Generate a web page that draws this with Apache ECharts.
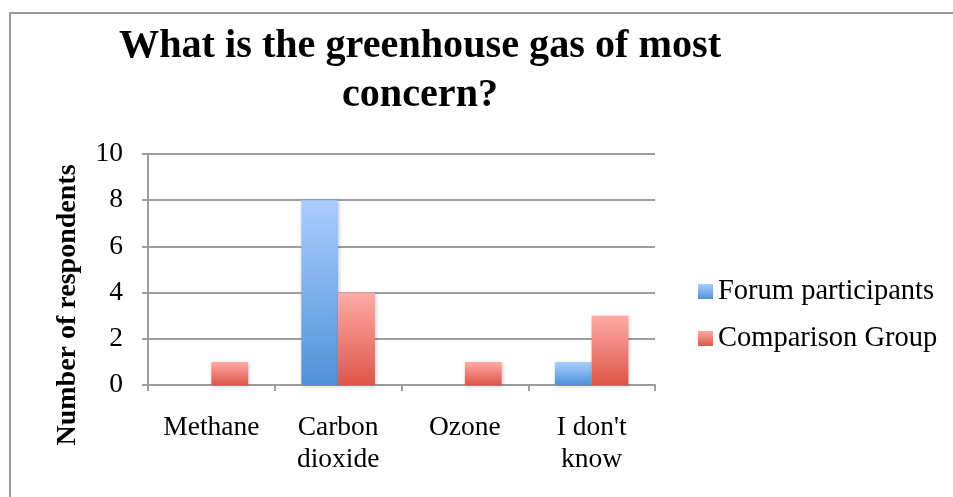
<!DOCTYPE html>
<html>
<head>
<meta charset="utf-8">
<script src="https://cdn.jsdelivr.net/npm/echarts@6/dist/echarts.min.js"></script>
<style>
  html, body { margin: 0; padding: 0; background: #fff; }
  #chart { width: 953px; height: 497px; }
</style>
</head>
<body>
<div id="chart"></div>
<script>
// Survey answers: greenhouse gas of most concern
const categories = ['Methane', 'Carbon dioxide', 'Ozone', "I don't know"];
const forumParticipants = [0, 8, 0, 1];
const comparisonGroup = [1, 4, 1, 3];
const seriesNames = ['Forum participants', 'Comparison Group'];
const yTicks = { min: 0, max: 10, interval: 2 };

const FONT = '"Liberation Serif", "Times New Roman", serif';
const GRID = '#9e9e9e';

function vGrad(top, bottom) {
  return new echarts.graphic.LinearGradient(0, 0, 0, 1, [
    { offset: 0, color: top },
    { offset: 1, color: bottom }
  ]);
}

// long category names wrap onto two lines at their last space
function wrapLabel(value) {
  if (value.length <= 8) return value;
  const i = value.lastIndexOf(' ');
  return i > 0 ? value.slice(0, i) + '\n' + value.slice(i + 1) : value;
}

const barShadow = {
  shadowBlur: 4,
  shadowColor: 'rgba(0,0,0,0.22)',
  shadowOffsetX: 1,
  shadowOffsetY: 1
};

const chart = echarts.init(document.getElementById('chart'), null, { renderer: 'canvas' });

chart.setOption({
  animation: false,
  backgroundColor: '#ffffff',
  title: {
    text: 'What is the greenhouse gas of most\nconcern?',
    left: 415,
    top: 17,
    textAlign: 'center',
    textStyle: {
      fontFamily: FONT,
      fontWeight: 'bold',
      fontSize: 40.2,
      lineHeight: 49,
      color: '#000'
    }
  },
  legend: {
    orient: 'vertical',
    left: 698,
    top: 277,
    padding: 0,
    itemWidth: 15,
    itemHeight: 15,
    itemGap: 18,
    itemTextGap: 6,
    selectedMode: false,
    icon: 'rect',
    textStyle: {
      fontFamily: FONT,
      fontSize: 28.5,
      lineHeight: 29,
      color: '#000'
    },
    data: seriesNames
  },
  grid: {
    left: 148,
    right: 298,
    top: 154,
    bottom: 112,
    containLabel: false
  },
  xAxis: {
    type: 'category',
    data: categories,
    axisLine: { show: true, lineStyle: { color: GRID, width: 2 } },
    axisTick: { show: true, length: 6, lineStyle: { color: GRID, width: 2 } },
    axisLabel: {
      fontFamily: FONT,
      fontSize: 27.5,
      lineHeight: 32,
      color: '#000',
      margin: 27,
      interval: 0,
      formatter: wrapLabel
    }
  },
  yAxis: {
    type: 'value',
    min: yTicks.min,
    max: yTicks.max,
    interval: yTicks.interval,
    axisLine: { show: true, lineStyle: { color: GRID, width: 2 } },
    axisTick: { show: true, length: 6, lineStyle: { color: GRID, width: 2 } },
    splitLine: { show: true, lineStyle: { color: GRID, width: 2 } },
    axisLabel: {
      fontFamily: FONT,
      fontSize: 27.5,
      color: '#000',
      margin: 25
    }
  },
  series: [
    {
      name: seriesNames[0],
      type: 'bar',
      data: forumParticipants,
      barGap: '0%',
      barCategoryGap: '42%',
      itemStyle: Object.assign({ color: vGrad('#aacdff', '#4f92d8') }, barShadow)
    },
    {
      name: seriesNames[1],
      type: 'bar',
      data: comparisonGroup,
      barGap: '0%',
      barCategoryGap: '42%',
      itemStyle: Object.assign({ color: vGrad('#ffaaa6', '#dc5647') }, barShadow)
    }
  ],
  graphic: [
    {
      // chart area frame (left and top edges)
      type: 'polyline',
      silent: true,
      shape: { points: [[10, 520], [10, 13], [980, 13]] },
      style: { fill: null, stroke: '#9a9a9a', lineWidth: 2 }
    },
    {
      // vertical axis title
      type: 'text',
      silent: true,
      x: 68,
      y: 305,
      rotation: Math.PI / 2,
      style: {
        text: 'Number of respondents',
        font: 'bold 28px ' + FONT,
        fill: '#000',
        align: 'center',
        verticalAlign: 'middle'
      }
    }
  ]
});
</script>
</body>
</html>
